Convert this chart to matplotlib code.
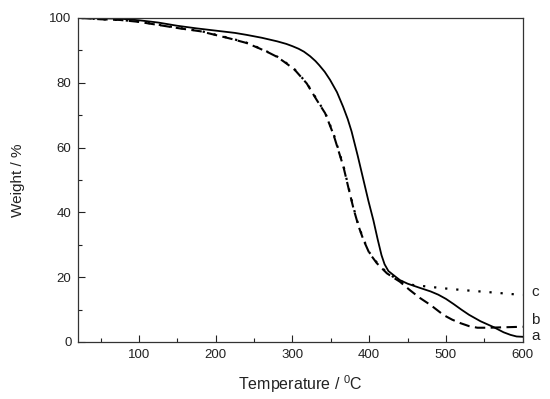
import matplotlib
matplotlib.use("Agg")
import matplotlib.pyplot as plt
from matplotlib.ticker import MultipleLocator

plt.rcParams['font.family'] = ['Liberation Sans', 'DejaVu Sans']
plt.rcParams['mathtext.fontset'] = 'custom'
plt.rcParams['mathtext.rm'] = 'Liberation Sans'

# sample a (solid)
T_a = [25, 50, 75, 100, 125, 150, 175, 200, 225, 240, 260, 280, 292, 300, 308, 315, 323, 330, 335, 342,
       349, 358, 366, 372, 377, 385, 392.5, 399, 405.5, 411, 416, 420, 425, 434, 440, 450, 466, 480,
       490, 500, 510, 520, 530, 545, 562, 575, 584, 592, 600]
W_a = [100, 99.9, 99.8, 99.3, 98.6, 97.6, 96.8, 96.1, 95.4, 94.8, 93.9, 92.8, 92.0, 91.3, 90.5, 89.6,
       88.2, 86.7, 85.4, 83.4, 80.9, 77.1, 72.6, 68.8, 65.0, 57.5, 50.0, 43.5, 37.5, 31.7, 26.8, 24.0,
       21.9, 20.2, 19.1, 18.0, 16.7, 15.6, 14.6, 13.3, 11.7, 10.0, 8.4, 6.4, 4.6, 3.0, 2.2, 1.7, 1.6]

# sample b (dashed)
T_b = [25, 50, 75, 100, 153, 180, 218, 240, 257, 270, 280, 292, 303, 318.6, 331.6, 342.6, 353.5, 360,
       366.5, 373, 379.5, 386, 392.5, 400, 410, 423, 432, 440, 453, 466, 480, 497, 508, 519, 530, 541,
       555, 570, 600]
W_b = [100, 99.6, 99.4, 98.8, 96.8, 95.9, 93.7, 92.3, 90.6, 89.2, 88.0, 86.0, 84.0, 79.8, 74.7, 70.6,
       64.0, 59.0, 54.0, 47.5, 41.2, 35.8, 31.5, 27.5, 24.3, 21.2, 19.8, 18.6, 16.0, 13.6, 11.4, 8.3,
       6.9, 5.8, 4.9, 4.4, 4.4, 4.5, 4.7]

# sample c (dotted)
T_c = [25, 50, 75, 100, 153, 180, 218, 240, 257, 270, 280, 292, 303, 318.6, 331.6, 342.6, 353.5, 360,
       366.5, 373, 379.5, 386, 392.5, 400, 410, 423, 432, 440, 457, 480, 500, 523, 560, 600]
W_c = [100, 99.6, 99.4, 98.9, 96.9, 96.0, 93.8, 92.4, 90.7, 89.3, 88.1, 86.1, 84.1, 79.9, 74.9, 70.8,
       64.3, 59.3, 54.3, 47.8, 41.5, 36.0, 31.7, 27.7, 24.5, 21.4, 20.0, 18.8, 17.6, 17.0, 16.5, 16.0,
       15.3, 14.5]

labels = ["a", "b", "c"]
label_y = [1.9, 6.8, 15.4]

fig = plt.figure(figsize=(5.5, 3.99), dpi=100)
ax = fig.add_axes([0.1424, 0.1429, 0.808, 0.812])

ax.plot(T_a, W_a, color="black", lw=1.3, ls="-")
ax.plot(T_b, W_b, color="black", lw=1.5, ls=(0, (5, 2.6)))
ax.plot(T_c, W_c, color="black", lw=1.6, ls=(0, (1, 4)))

ax.set_xlim(21, 600)
ax.set_ylim(0, 100)
ax.xaxis.set_major_locator(MultipleLocator(100))
ax.xaxis.set_minor_locator(MultipleLocator(50))
ax.yaxis.set_major_locator(MultipleLocator(20))
ax.yaxis.set_minor_locator(MultipleLocator(10))
ax.tick_params(which="both", direction="in", labelsize=9.5, colors="#222222", width=0.8, pad=5)
ax.tick_params(which="major", length=5)
ax.tick_params(which="minor", length=3)
for s in ax.spines.values():
    s.set_linewidth(0.9)
    s.set_color("#333333")

ax.set_xlabel("Temperature / $\\mathregular{^0}$C", fontsize=11.5, color="#222222")
ax.set_ylabel("Weight / %", fontsize=11, color="#222222")
ax.xaxis.set_label_coords(0.5, -0.0957)
ax.yaxis.set_label_coords(-0.12, 0.5)

for lab, y in zip(labels, label_y):
    ax.text(1.019, y / 100, lab, transform=ax.transAxes, fontsize=11, va="center", ha="left", color="#222222")

fig.savefig("out.png", dpi=100)
